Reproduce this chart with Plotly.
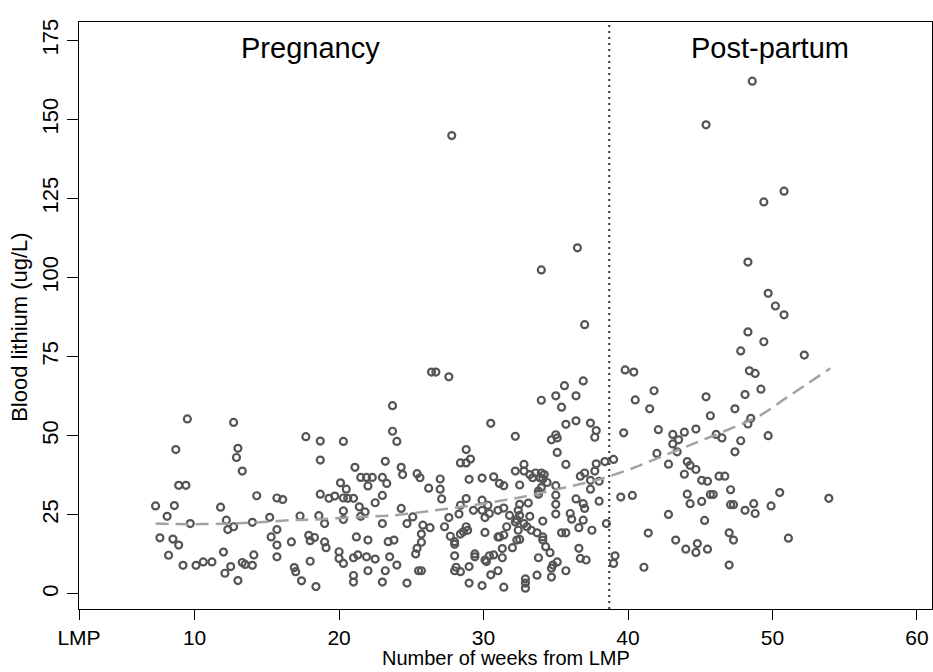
import plotly.graph_objects as go

# ---- data ----
weeks = [
    9.5, 12.7, 8.7, 13.0, 12.9, 13.3, 17.7, 18.7, 20.3, 18.7, 21.1, 8.9, 9.4, 14.3, 15.7, 16.1, 20.1, 20.5, 18.7, 19.3,
    19.7, 20.3, 20.6, 21.0, 7.3, 8.6, 11.8, 8.1, 9.7, 12.2, 12.7, 12.3, 14.0, 15.2, 15.7, 15.3, 15.7, 15.7, 16.7, 17.3,
    18.6, 19.0, 20.3, 20.3, 21.4, 17.9, 18.3, 18.0, 19.0, 19.1, 21.2, 20.0, 20.0, 20.3, 21.0, 21.3, 7.6, 8.5, 8.9, 8.2,
    9.2, 10.1, 10.6, 11.2, 12.0, 12.5, 12.1, 13.0, 13.3, 13.5, 14.0, 14.1, 16.9, 17.0, 17.4, 18.0, 18.4, 21.0, 21.0,
    23.7, 23.7, 24.0, 23.2, 24.3, 24.4, 21.5, 21.9, 22.3, 23.0, 22.0, 23.3, 23.0, 22.5, 21.8, 21.5, 25.4, 25.6, 26.2,
    27.0, 27.0, 27.1, 28.8, 28.4, 28.8, 29.1, 29.0, 29.9, 30.7, 31.1, 31.4, 30.5, 32.2,
    32.2, 32.8, 32.8, 33.2, 33.6, 33.4, 34.0, 34.2, 33.9, 34.1, 34.4, 32.5, 34.0, 33.8, 33.8, 35.0, 35.0, 35.0, 35.0,
    34.0, 35.0, 35.4, 35.6, 36.4, 36.9, 35.7, 36.4, 37.4, 37.8, 37.7, 34.7, 35.0, 35.1, 35.1, 35.7, 36.7, 37.0,
    37.8, 37.7, 38.4, 39.0, 37.4, 38.0, 37.4, 36.4, 36.9, 37.0, 38.0, 36.0, 36.1, 36.9, 36.6, 37.5, 38.5, 35.4, 35.7,
    36.6, 36.7, 37.1, 39.1, 39.0, 35.7, 35.1, 34.8, 34.7, 34.7, 33.8, 33.7, 34.1, 33.2, 33.1,
    32.5, 32.4, 32.5, 32.3, 32.2, 32.8, 33.0, 33.3, 32.4, 32.5, 32.3, 31.8, 31.6, 31.4, 31.1, 31.3, 31.3, 32.0,
    31.0, 31.4, 31.0, 34.1, 34.1, 34.3, 34.6, 33.7, 30.7, 30.4, 30.1, 30.2, 31.0, 30.5, 29.9, 31.4, 32.9, 32.9, 32.9,
    29.0, 29.0, 28.4, 28.0, 28.1, 29.4, 29.4, 28.0, 28.0, 28.0, 27.7, 27.6, 28.3, 27.3, 28.6, 28.8, 28.4, 28.9,
    28.8, 28.4, 29.3, 29.9, 30.3, 29.9, 30.1, 30.4, 30.1, 25.1, 24.7, 25.8, 26.3, 25.7, 25.7, 25.4, 25.3, 25.5, 25.7,
    24.3, 23.0, 22.0, 23.4, 23.8, 21.9, 22.5, 23.5, 24.0, 22.0, 23.0, 23.2, 24.7,
    48.3, 49.4, 47.8, 52.2, 39.8, 40.4, 48.4, 48.8, 41.8, 40.5, 41.5, 49.2, 48.1, 45.4, 47.4, 45.7, 48.5, 48.3, 39.7,
    42.1, 43.1, 43.9, 43.5, 43.1, 44.7, 46.1, 46.5, 47.8, 49.7, 47.4, 42.0, 43.4, 42.8, 44.1, 44.3, 44.7, 43.9, 45.1,
    45.5, 46.3, 46.7, 39.5, 40.3, 44.1, 44.3, 45.1, 45.7, 45.9, 47.1, 47.1, 47.3, 48.1, 48.7, 48.8, 49.9, 50.5, 53.9,
    42.8, 45.3, 41.4, 43.3, 44.0, 44.7, 44.8, 45.5, 47.0, 47.3, 51.1, 47.0, 41.1,
    27.8, 48.6, 45.4, 50.8, 49.4, 36.5, 34.0, 48.3, 37.0, 49.7, 50.2, 50.8, 26.4, 26.7, 27.6,
]
lithium = [
    55.3, 54.2, 45.6, 46.0, 43.1, 38.8, 49.7, 48.3, 48.2, 42.3, 40.0, 34.3, 34.3, 31.0, 30.3, 29.8, 35.1, 33.1, 31.5, 30.2,
    30.9, 30.3, 30.2, 30.2, 27.8, 27.9, 27.4, 24.5, 22.2, 23.3, 21.2, 20.3, 22.6, 24.2, 20.3, 18.0, 15.4, 11.7, 16.4, 24.6,
    24.7, 22.2, 26.2, 23.5, 27.5, 18.5, 17.8, 16.8, 16.4, 14.6, 18.0, 13.3, 11.2, 9.6, 11.4, 12.3, 17.7, 17.3, 15.4, 12.2,
    9.0, 9.0, 10.1, 10.1, 13.2, 8.6, 6.5, 4.2, 9.9, 9.3, 9.0, 12.3, 8.3, 7.0, 4.1, 10.3, 2.3, 5.8, 3.7,
    59.5, 51.4, 48.2, 41.9, 40.0, 37.7, 36.8, 36.8, 36.8, 36.8, 34.1, 34.9, 31.1, 28.8, 25.9, 24.5, 38.0, 36.7, 33.4,
    36.3, 33.1, 30.0, 45.6, 41.4, 41.4, 42.6, 36.2, 36.6, 37.0, 34.9, 34.2, 53.9, 49.8,
    38.8, 40.9, 38.8, 37.7, 38.2, 36.7, 38.2, 37.7, 36.7, 36.3, 35.2, 34.4, 33.6, 32.5, 31.5, 34.2, 31.2, 28.3, 25.2,
    61.2, 62.6, 59.0, 65.8, 62.6, 67.3, 53.6, 54.7, 54.0, 51.6, 49.5, 48.7, 50.3, 49.3, 44.7, 40.9, 37.2, 38.2,
    41.1, 38.8, 41.8, 42.5, 35.9, 35.6, 33.1, 30.0, 28.5, 27.0, 29.3, 25.4, 23.6, 23.3, 20.9, 20.1, 22.2, 19.3, 19.3,
    14.4, 11.2, 10.7, 12.0, 9.6, 7.3, 10.1, 9.1, 8.1, 5.3, 11.4, 5.9, 23.0, 24.5, 28.7,
    28.3, 26.4, 24.8, 23.5, 22.7, 22.2, 21.2, 20.1, 20.1, 17.2, 17.0, 24.8, 21.2, 18.6, 18.0, 14.3, 11.4, 14.6,
    26.4, 27.1, 18.0, 18.0, 17.0, 14.9, 13.0, 19.3, 12.3, 12.0, 10.7, 10.2, 7.3, 6.0, 2.6, 2.1, 4.7, 3.4, 1.8,
    3.4, 8.6, 7.0, 7.3, 8.4, 12.6, 11.7, 12.0, 15.7, 16.5, 18.2, 24.1, 25.2, 21.2, 19.6, 21.2, 18.9, 20.1,
    30.1, 28.0, 26.4, 29.6, 28.0, 26.4, 24.1, 25.4, 19.4, 24.3, 22.2, 21.7, 20.9, 18.9, 16.3, 14.4, 12.6, 7.3, 7.3,
    27.0, 22.2, 17.0, 16.5, 17.0, 11.7, 11.0, 11.7, 9.1, 7.3, 3.7, 7.3, 3.4,
    82.8, 79.7, 76.8, 75.5, 70.8, 70.1, 70.5, 69.7, 64.2, 61.3, 58.5, 64.7, 63.0, 62.3, 58.5, 56.3, 55.5, 53.7, 50.9,
    51.9, 50.4, 51.1, 48.7, 47.4, 52.1, 50.4, 49.3, 48.4, 50.0, 44.9, 44.4, 44.9, 41.0, 41.8, 40.6, 39.3, 37.8, 35.9,
    35.6, 37.2, 37.2, 30.6, 31.1, 31.5, 28.5, 29.2, 31.4, 31.4, 32.9, 28.2, 28.2, 26.4, 28.5, 25.4, 27.8, 32.0, 30.2,
    25.1, 23.2, 19.2, 17.0, 14.1, 13.1, 15.9, 14.1, 19.3, 17.0, 17.6, 9.1, 8.4,
    144.9, 162.1, 148.3, 127.3, 123.9, 109.4, 102.4, 104.9, 85.1, 95.0, 91.0, 88.2, 70.1, 70.1, 68.6,
]

# smoothed trend
trend_weeks = [7.3, 9.7, 12.2, 14.0, 16.8, 18.7, 21.4, 23.7, 26.3, 28.8, 31.4, 33.2, 35.8, 37.8, 39.9,
               41.5, 44.5, 47.3, 49.1, 51.0, 54.0]
trend_lithium = [22.2, 22.0, 22.2, 22.5, 23.3, 23.6, 24.3, 24.8, 26.2, 27.7, 29.6, 31.1, 33.8, 35.9, 39.0,
                 41.9, 47.4, 52.6, 56.3, 62.1, 71.3]

delivery_week = 38.7
x_tickvals = [2, 10, 20, 30, 40, 50, 60]
x_ticktext = ["LMP", "10", "20", "30", "40", "50", "60"]
y_tickvals = [0, 25, 50, 75, 100, 125, 150, 175]
x_range = [2, 61.04]
y_range = [-4.8, 180.8]

FONT = "Liberation Sans, Arial, Helvetica, sans-serif"

fig = go.Figure()
fig.add_trace(go.Scatter(
    x=weeks, y=lithium, mode="markers",
    marker=dict(symbol="circle-open", size=7, color="#555555", line=dict(width=2.2, color="#555555")),
    showlegend=False, hoverinfo="x+y",
))
fig.add_trace(go.Scatter(
    x=trend_weeks, y=trend_lithium, mode="lines", line_shape="spline",
    line=dict(color="#a3a3a3", width=2.5, dash="13px,7px"),
    showlegend=False, hoverinfo="skip",
))
fig.add_trace(go.Scatter(
    x=[delivery_week, delivery_week], y=y_range, mode="lines",
    line=dict(color="#333333", width=2, dash="2px,4px"),
    showlegend=False, hoverinfo="skip",
))

fig.update_layout(
    width=933, height=672,
    margin=dict(l=79, r=1, t=22, b=63),
    paper_bgcolor="white", plot_bgcolor="white",
    font=dict(family=FONT, size=22, color="black"),
    xaxis=dict(
        range=x_range, tickvals=x_tickvals, ticktext=x_ticktext,
        ticks="outside", ticklen=10, tickwidth=1.3, tickcolor="black",
        showline=True, linecolor="black", linewidth=1.3, mirror=True,
        showgrid=False, zeroline=False, tickfont=dict(size=21),
    ),
    yaxis=dict(
        range=y_range, tickvals=y_tickvals, tickangle=-90,
        ticks="outside", ticklen=10.6, tickwidth=1.3, tickcolor="black",
        showline=True, linecolor="black", linewidth=1.3, mirror=True,
        showgrid=False, zeroline=False, tickfont=dict(size=22),
    ),
    annotations=[
        dict(text="Pregnancy", x=18.0, y=172.7, xref="x", yref="y", showarrow=False,
             xanchor="center", yanchor="middle", font=dict(size=29)),
        dict(text="Post-partum", x=49.8, y=172.7, xref="x", yref="y", showarrow=False,
             xanchor="center", yanchor="middle", font=dict(size=29)),
        dict(text="Number of weeks from LMP", x=0.5, y=-0.106, xref="paper", yref="paper",
             showarrow=False, xanchor="center", yanchor="bottom", font=dict(size=20)),
        dict(text="Blood lithium (ug/L)", x=-0.0696, y=0.48, xref="paper", yref="paper",
             showarrow=False, xanchor="center", yanchor="middle", textangle=-90, font=dict(size=22)),
    ],
)

fig.write_html("out.html")
